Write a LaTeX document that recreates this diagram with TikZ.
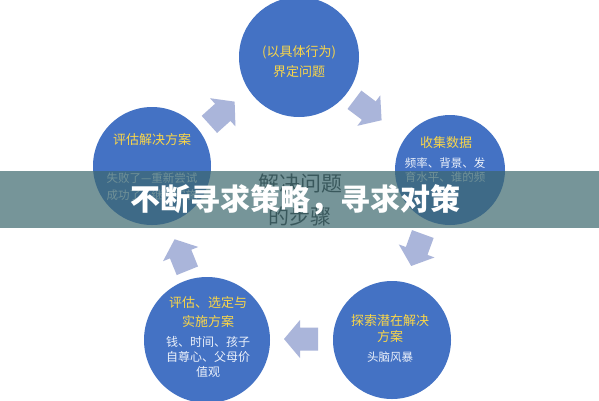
\documentclass[tikz,border=0pt]{standalone}
\usepackage{fontspec}
\setmainfont{Noto Sans CJK SC}
\definecolor{circblue}{RGB}{68,114,196}
\definecolor{arrowfill}{RGB}{170,181,218}
\definecolor{titleyellow}{RGB}{250,214,72}
\definecolor{bodywhite}{RGB}{236,241,250}
\definecolor{bannercol}{RGB}{60,104,110}
\definecolor{centertext}{RGB}{51,51,51}
\tikzset{
  circ/.style={circle, fill=circblue, inner sep=0pt, minimum size=#1},
  ctitle/.style={text=titleyellow, align=center, inner sep=0pt, font=\fontsize{13}{#1}\selectfont},
  cbody/.style={text=bodywhite, align=center, inner sep=0pt, font=\fontsize{11.5}{#1}\selectfont},
  blockarrow/.pic={\fill[arrowfill] (-17,-11.5) -- (1,-11.5) -- (1,-19) -- (17,0) -- (1,19) -- (1,11.5) -- (-17,11.5) -- cycle;}
}
\begin{document}
\begin{tikzpicture}[x=1pt,y=-1pt]
\useasboundingbox (0,0) rectangle (599,400);
\fill[white] (0,0) rectangle (599,400);
% circles
\node[circ=120pt] (c1) at (299,57) {};
\node[circ=110pt] (c2) at (450,170) {};
\node[circ=118pt] (c3) at (152,166) {};
\node[circ=126pt] (c4) at (207,340) {};
\node[circ=118pt] (c5) at (392,340) {};
% texts in circles
\node[ctitle=20pt] (t1) at (299,62) {(以具体行为)\\界定问题};
\node[ctitle=16pt] (t2) at (446,143) {收集数据};
\node[cbody=14pt] (b2) at (445,170) {频率、背景、发\\育水平、谁的频};
\node[ctitle=16pt] (t3) at (152,140) {评估解决方案};
\node[cbody=17pt] (b3) at (152,187) {失败了—重新尝试\\成功了—继续实施};
\node[ctitle=19pt] (t4) at (208,312) {评估、选定与\\实施方案};
\node[cbody=15pt, font=\fontsize{12}{15}\selectfont] (b4) at (208,357) {钱、时间、孩子\\自尊心、父母价\\值观};
\node[ctitle=16pt] (t5) at (390,329) {探索潜在解决\\方案};
\node[cbody=14pt] (b5) at (390,357) {头脑风暴};
% block arrows
\pic[rotate=42] at (222,113) {blockarrow};
\pic[rotate=-37] at (368,110) {blockarrow};
\pic[rotate=-110] at (417,250) {blockarrow};
\pic[rotate=180] at (301,339) {blockarrow};
\pic[rotate=112] at (181,255) {blockarrow};
% center text
\node[text=centertext, align=center, inner sep=0pt, font=\fontsize{21}{33}\selectfont] (ct) at (300,200) {解决问题\\的步骤};
% banner
\fill[bannercol, opacity=0.7] (0,171) rectangle (599,228);
\node[text=white, inner sep=0pt, font=\fontsize{30}{34}\selectfont\bfseries] (title) at (295,200) {不断寻求策略，寻求对策};
\end{tikzpicture}
\end{document}
